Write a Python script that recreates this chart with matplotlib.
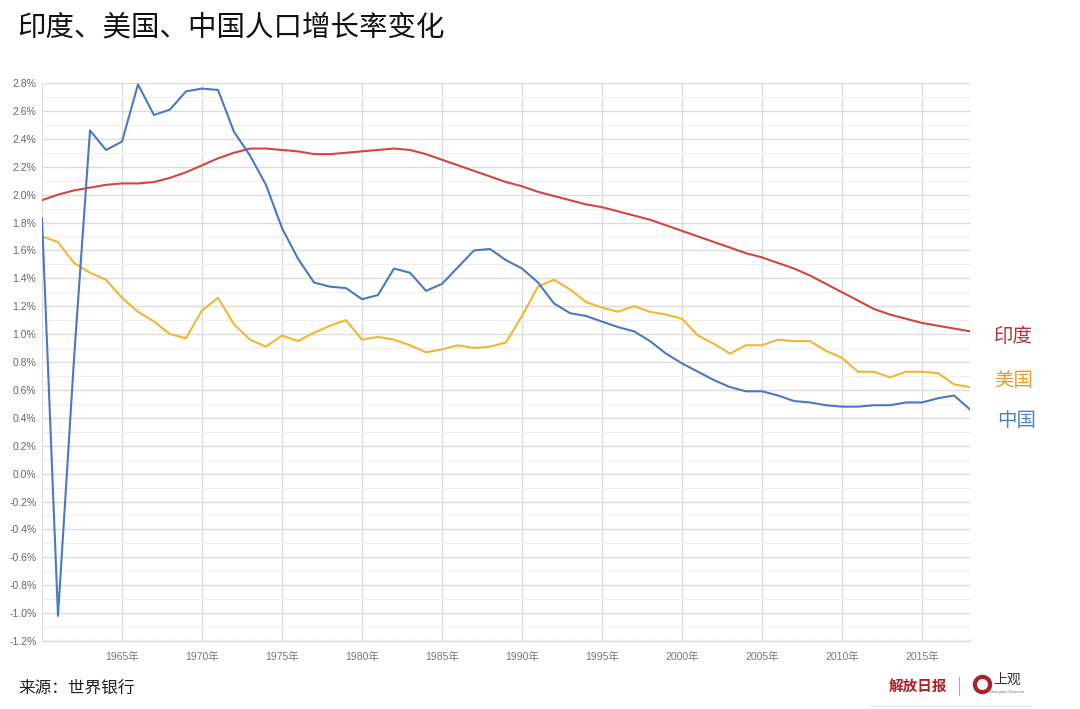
import matplotlib
matplotlib.use("Agg")
import matplotlib.pyplot as plt
from matplotlib.ticker import MultipleLocator, FixedLocator
import numpy as np

plt.rcParams['font.family'] = ['Noto Sans CJK SC', 'DejaVu Sans']
plt.rcParams['axes.unicode_minus'] = False

years = list(range(1960, 2019))

india = [1.96, 2.00, 2.03, 2.05, 2.07, 2.08, 2.08, 2.09, 2.12, 2.16,
         2.21, 2.26, 2.30, 2.33, 2.33, 2.32, 2.31, 2.29, 2.29, 2.30,
         2.31, 2.32, 2.33, 2.32, 2.29, 2.25, 2.21, 2.17, 2.13, 2.09,
         2.06, 2.02, 1.99, 1.96, 1.93, 1.91, 1.88, 1.85, 1.82, 1.78,
         1.74, 1.70, 1.66, 1.62, 1.58, 1.55, 1.51, 1.47, 1.42, 1.36,
         1.30, 1.24, 1.18, 1.14, 1.11, 1.08, 1.06, 1.04, 1.02]

usa = [1.70, 1.66, 1.51, 1.44, 1.39, 1.26, 1.16, 1.09, 1.00, 0.97,
       1.17, 1.26, 1.07, 0.96, 0.91, 0.99, 0.95, 1.01, 1.06, 1.10,
       0.96, 0.98, 0.96, 0.92, 0.87, 0.89, 0.92, 0.90, 0.91, 0.94,
       1.13, 1.34, 1.39, 1.32, 1.23, 1.19, 1.16, 1.20, 1.16, 1.14,
       1.11, 0.99, 0.93, 0.86, 0.92, 0.92, 0.96, 0.95, 0.95, 0.88,
       0.83, 0.73, 0.73, 0.69, 0.73, 0.73, 0.72, 0.64, 0.62]

china = [1.83, -1.02, 0.82, 2.46, 2.32, 2.38, 2.79, 2.57, 2.61, 2.74,
         2.76, 2.75, 2.45, 2.28, 2.07, 1.76, 1.54, 1.37, 1.34, 1.33,
         1.25, 1.28, 1.47, 1.44, 1.31, 1.36, 1.48, 1.60, 1.61, 1.53,
         1.47, 1.37, 1.22, 1.15, 1.13, 1.09, 1.05, 1.02, 0.95, 0.86,
         0.79, 0.73, 0.67, 0.62, 0.59, 0.59, 0.56, 0.52, 0.51, 0.49,
         0.48, 0.48, 0.49, 0.49, 0.51, 0.51, 0.54, 0.56, 0.46]

series_names = ['印度', '美国', '中国']
line_colors = ['#d2473c', '#f2b630', '#4a79c2']
label_colors = ['#b8333a', '#e0a028', '#4f82c0']

x_tick_years = [1965, 1970, 1975, 1980, 1985, 1990, 1995, 2000, 2005, 2010, 2015]
x_tick_labels = [f'{y}年' for y in x_tick_years]

title = '印度、美国、中国人口增长率变化'
source = '来源：世界银行'

fig = plt.figure(figsize=(10.8, 7.09), dpi=100)
ax = fig.add_axes([42/1080, 1-641/709, (970-42)/1080, (641-83)/709])

for vals, c in zip([india, usa, china], line_colors):
    ax.plot(years, vals, color=c, lw=1.5, solid_joinstyle='round', zorder=3)

ax.set_xlim(1960, 2018)
ax.set_ylim(-1.2, 2.8)

ax.yaxis.set_minor_locator(MultipleLocator(0.1))
yt = np.arange(-1.2, 2.81, 0.2)
ax.set_yticks(yt)
ax.set_yticklabels([f'{v:.1f}%' if abs(v) > 1e-9 else '0.0%' for v in yt],
                   family=['Liberation Sans', 'Noto Sans CJK SC'], fontsize=7.5, color='#666666')

ax.xaxis.set_major_locator(FixedLocator(x_tick_years))
ax.set_xticklabels(x_tick_labels, family=['Liberation Sans', 'Noto Sans CJK SC'],
                   fontsize=7.5, color='#777777')
ax.xaxis.set_minor_locator(MultipleLocator(1))

ax.grid(which='major', axis='y', color='#dcdcdc', lw=1.0)
ax.grid(which='minor', axis='y', color='#efefef', lw=0.8)
ax.grid(which='major', axis='x', color='#dcdcdc', lw=1.0)

ax.tick_params(axis='y', which='both', length=0, pad=4)
ax.tick_params(axis='x', which='major', length=0, pad=8)
ax.tick_params(axis='x', which='minor', length=2, color='#dddddd', direction='in')

for s in ['top', 'right']:
    ax.spines[s].set_visible(False)
ax.spines['left'].set_color('#dddddd')
ax.spines['bottom'].set_color('#d8d8d8')
ax.set_axisbelow(True)

# series labels at right
label_pos = [(1013, 337), (1014, 380), (1017, 420)]
for name, c, (px, py) in zip(series_names, label_colors, label_pos):
    fig.text(px/1080, 1-py/709, name, color=c, fontsize=14, ha='center', va='center')

fig.text(17/1080, 1-28/709, title, fontsize=20.5, color='#111111', ha='left', va='center')
fig.text(18/1080, 1-688/709, source, fontsize=12, color='#222222', ha='left', va='center')

# logo approximation
fig.text(918/1080, 1-686/709, '解放日报', fontsize=10.5, color='#b0202a', style='italic',
         ha='center', va='center', fontweight='bold')
fig.add_artist(plt.Line2D([959/1080, 959/1080], [1-677/709, 1-695/709], color='#aaaaaa', lw=0.8))
fig.add_artist(plt.Line2D([982/1080], [1-684/709], marker='o', markersize=11, mfc='white',
                          mec='#b0202a', mew=3, ls='none'))
fig.text(1007/1080, 1-680/709, '上观', fontsize=10, color='#333333', ha='center', va='center')
fig.text(1007/1080, 1-692/709, 'Shanghai Observer', fontsize=3, color='#777777', ha='center', va='center',
         family=['Liberation Sans'])
fig.add_artist(plt.Line2D([870/1080, 1030/1080], [1-706/709, 1-706/709], color='#e6e6e6', lw=0.8))

fig.savefig('out.png', dpi=100, facecolor='white')
